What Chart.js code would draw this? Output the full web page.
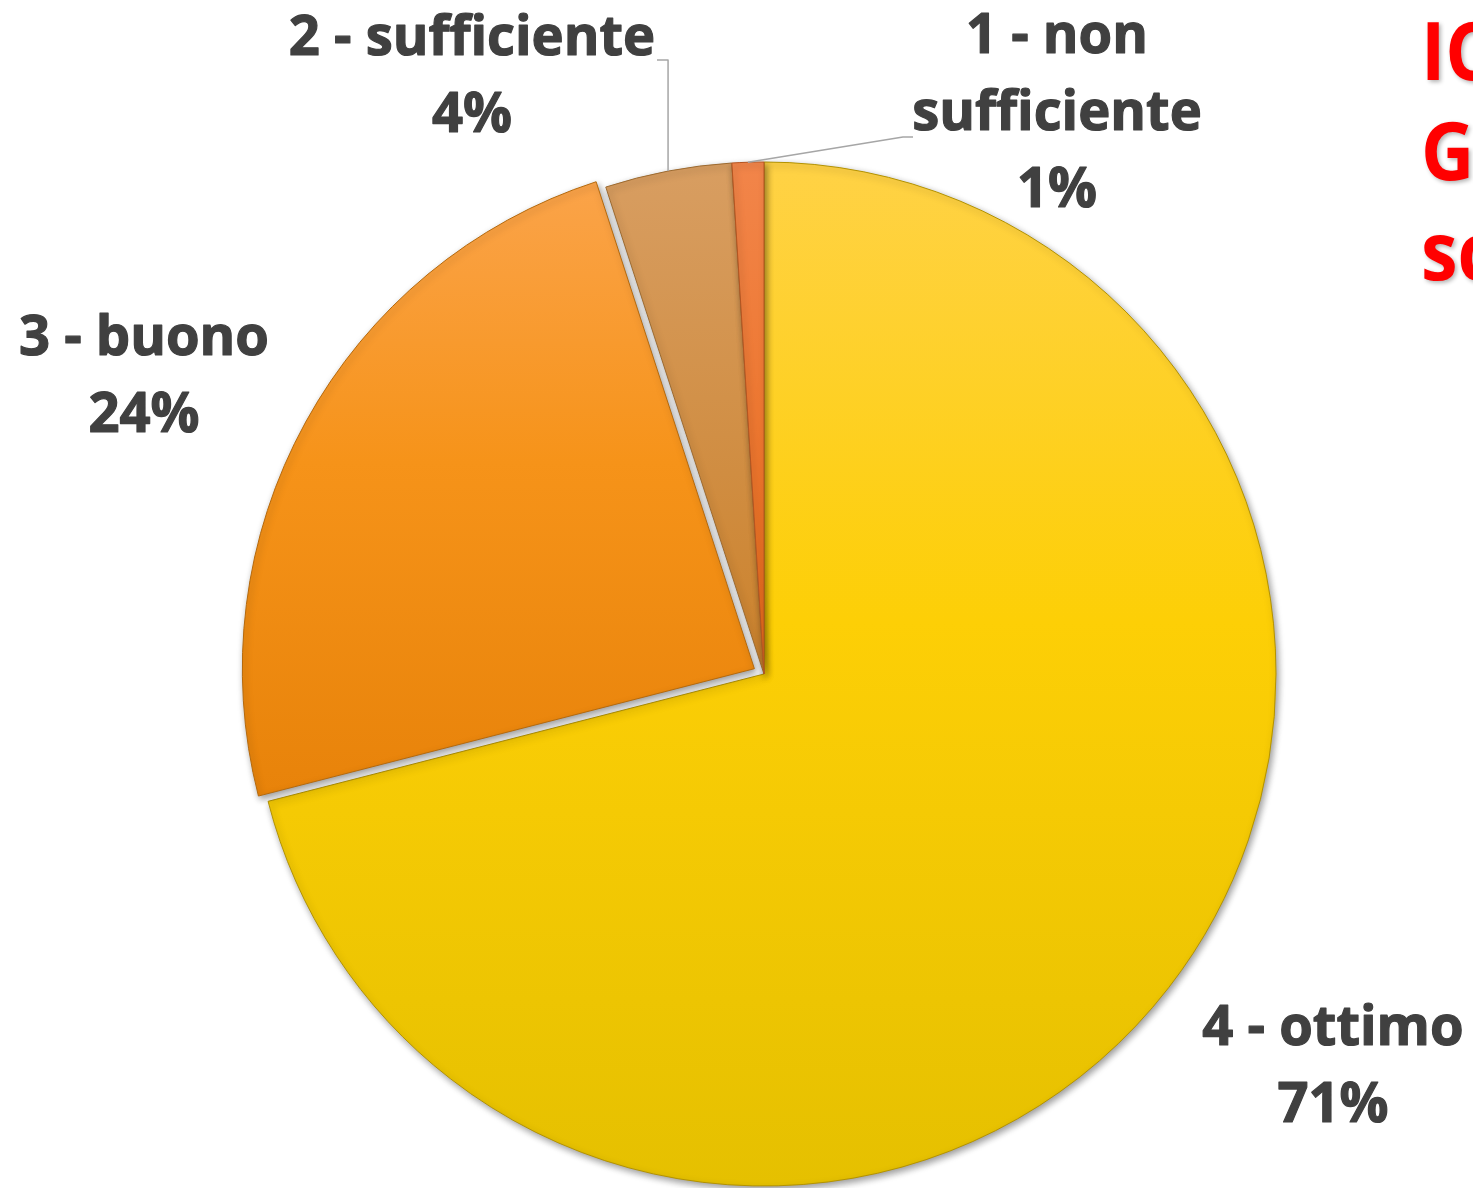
<!DOCTYPE html>
<html>
<head>
<meta charset="utf-8">
<script src="https://cdn.jsdelivr.net/npm/chart.js@4.4.1/dist/chart.umd.min.js"></script>
<style>
  html, body { margin: 0; padding: 0; background: #fff; overflow: hidden; }
  #wrap { position: relative; width: 1473px; height: 1188px; overflow: hidden; }
</style>
</head>
<body>
<div id="wrap"><canvas id="pie" width="1473" height="1188"></canvas></div>
<script>
// data, in drawing order (clockwise from 12 o'clock)
const categories = ['4 - ottimo', '3 - buono', '2 - sufficiente', '1 - non sufficiente'];
const percentages = [71, 24, 4, 1];
const titleLines = ['IC', 'G', 'sc']; // only what is visible, the rest runs off the edge

// Chart.js v4 draws an arc's offset at a quarter of the option value,
// so 44 here moves the "buono" slice out by about 11px
const explodeOffset = [0, 44, 0, 0];

// vertical gradient stops per slice (top -> bottom of the pie)
const sliceStops = [
  [[0, '#FFD246'], [0.45, '#FDCF06'], [1, '#E5C000']],
  [[0, '#FBA54E'], [0.3, '#F69319'], [0.62, '#E8830A'], [1, '#D87400']],
  [[0, '#D89E62'], [0.5, '#CB822C'], [1, '#B87020']],
  [[0, '#F2854A'], [0.5, '#E86A18'], [1, '#D85A08']]
];
const sliceBorders = ['#B39200', '#B5690C', '#9C6A30', '#B45420'];

// where each data label sits, and how its leader line bends
const labelLayout = [
  { cx: 1333, base: 1045, maxW: 400 },
  { cx: 144, base: 355, maxW: 400 },
  { cx: 472, base: 55, maxW: 420, leader: [[null, 60], [657, 60]] },
  { cx: 1057, base: 53, maxW: 320, leader: [[903, 137], [913, 137]] }
];
const LINE_GAP = 77;
const LABEL_FONT = 'bold 56px "Open Sans"';

const gradCache = {};
function sliceFill(context) {
  const i = context.dataIndex;
  const chart = context.chart;
  const area = chart.chartArea;
  if (!area || i == null) return sliceStops[0][1][1];
  const key = i + ':' + area.top + ':' + area.bottom;
  if (!gradCache[key]) {
    const g = chart.ctx.createLinearGradient(0, area.top, 0, area.bottom);
    sliceStops[i].forEach(([p, c]) => g.addColorStop(p, c));
    gradCache[key] = g;
  }
  return gradCache[key];
}

const shadowPlugin = {
  id: 'sliceShadow',
  beforeDatasetsDraw(chart) {
    const ctx = chart.ctx;
    ctx.save();
    ctx.shadowColor = 'rgba(0,0,0,0.4)';
    ctx.shadowBlur = 7;
    ctx.shadowOffsetX = 2;
    ctx.shadowOffsetY = 3;
  },
  afterDatasetsDraw(chart) {
    chart.ctx.restore();
  }
};

function wrapText(ctx, text, maxW) {
  const words = text.split(' ');
  const lines = [];
  let cur = '';
  words.forEach(w => {
    const test = cur ? cur + ' ' + w : w;
    if (cur && ctx.measureText(test).width > maxW) {
      lines.push(cur);
      cur = w;
    } else {
      cur = test;
    }
  });
  if (cur) lines.push(cur);
  return lines;
}

const labelPlugin = {
  id: 'pieLabels',
  afterDraw(chart) {
    const ctx = chart.ctx;
    const meta = chart.getDatasetMeta(0);
    ctx.save();
    ctx.font = LABEL_FONT;
    // squeeze a touch so the glyph widths sit closer to the original face
    const sx = 250 / ctx.measureText('3 - buono').width;

    meta.data.forEach((arc, i) => {
      const lay = labelLayout[i];
      const { x, y, startAngle, endAngle, outerRadius } =
        arc.getProps(['x', 'y', 'startAngle', 'endAngle', 'outerRadius'], true);

      // leader line
      if (lay.leader) {
        const mid = (startAngle + endAngle) / 2;
        const px = x + Math.cos(mid) * outerRadius;
        const py = y + Math.sin(mid) * outerRadius;
        ctx.beginPath();
        ctx.moveTo(px, py);
        lay.leader.forEach(([lx, ly]) => ctx.lineTo(lx == null ? px : lx, ly));
        ctx.strokeStyle = '#A6A6A6';
        ctx.lineWidth = 1.5;
        ctx.stroke();
      }

      // text (slight stroke to get closer to the heavy original weight)
      const lines = wrapText(ctx, categories[i], lay.maxW / sx);
      lines.push(percentages[i] + '%');
      ctx.fillStyle = '#404040';
      ctx.strokeStyle = '#404040';
      ctx.lineWidth = 1.2;
      ctx.lineJoin = 'round';
      ctx.textAlign = 'center';
      ctx.textBaseline = 'alphabetic';
      lines.forEach((t, k) => {
        ctx.save();
        ctx.translate(lay.cx, lay.base + k * LINE_GAP);
        ctx.scale(sx, 1);
        ctx.fillText(t, 0, 0);
        ctx.strokeText(t, 0, 0);
        ctx.restore();
      });
    });

    // red title, cut by the right edge as in the original
    ctx.font = 'bold 80px "Open Sans"';
    ctx.textAlign = 'left';
    ctx.fillStyle = '#FF0000';
    ctx.shadowColor = 'rgba(0,0,0,0.3)';
    ctx.shadowBlur = 4;
    ctx.shadowOffsetX = 2;
    ctx.shadowOffsetY = 2;
    titleLines.forEach((t, k) => {
      ctx.save();
      ctx.translate(1421, 80 + k * 100);
      ctx.scale(0.92, 1);
      ctx.fillText(t, 0, 0);
      ctx.restore();
    });
    ctx.restore();
  }
};

new Chart(document.getElementById('pie'), {
  type: 'pie',
  data: {
    labels: categories,
    datasets: [{
      data: percentages,
      backgroundColor: sliceFill,
      borderColor: sliceBorders,
      borderWidth: 1,
      offset: explodeOffset
    }]
  },
  options: {
    responsive: false,
    animation: false,
    radius: 512,
    layout: { padding: { top: 160, bottom: 0, left: 264, right: 209 } },
    plugins: {
      legend: { display: false },
      tooltip: { enabled: false },
      title: { display: false }
    }
  },
  plugins: [shadowPlugin, labelPlugin]
});
</script>
</body>
</html>
